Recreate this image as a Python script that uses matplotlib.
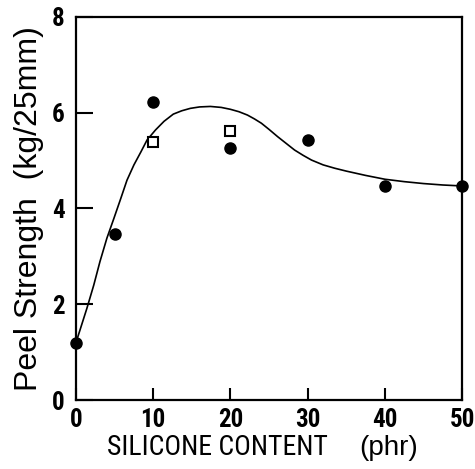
import matplotlib
matplotlib.use("Agg")
import matplotlib.pyplot as plt
from matplotlib import font_manager as fm

# filled circles
circle_x = [0, 5, 10, 20, 30, 40, 50]
circle_y = [1.2, 3.47, 6.22, 5.27, 5.43, 4.47, 4.47]
# open squares
square_x = [10, 20]
square_y = [5.39, 5.62]
# smooth curve
curve_x = [0, 1.4, 2.3, 3.1, 4.0, 4.9, 5.8, 6.6, 7.5, 8.4, 9.2, 10.3, 11.4, 12.6,
           13.7, 14.8, 16.0, 17.4, 18.8, 20.0, 21.1, 22.2, 23.1, 24.0, 25.0, 26.1,
           27.2, 28.3, 29.4, 30.5, 32.0, 33.5, 35.0, 37.5, 40, 42.5, 45, 47.5, 50]
curve_y = [1.2, 1.91, 2.40, 2.89, 3.38, 3.79, 4.21, 4.59, 4.91, 5.18, 5.43, 5.64,
           5.82, 5.97, 6.04, 6.09, 6.12, 6.13, 6.11, 6.07, 6.02, 5.95, 5.87, 5.78,
           5.65, 5.50, 5.36, 5.22, 5.11, 5.01, 4.91, 4.84, 4.78, 4.69, 4.61, 4.56,
           4.52, 4.49, 4.47]
x_ticks = [0, 10, 20, 30, 40, 50]
y_ticks = [0, 2, 4, 6, 8]

names = {f.name for f in fm.fontManager.ttflist}
cond = ['DejaVu Sans']
for cand in ['Liberation Sans Narrow', 'Roboto Condensed', 'Open Sans Condensed']:
    if cand in names:
        cond = [cand, 'DejaVu Sans']
        break
helv = ['Liberation Sans', 'DejaVu Sans']

fig = plt.figure(figsize=(4.75, 4.69), dpi=100)
ax = fig.add_axes([0.160, 0.147, 0.813, 0.817])

ax.plot(curve_x, curve_y, color='black', lw=1.2, zorder=2, clip_on=False)
ax.plot(circle_x, circle_y, 'o', color='black', ms=8, zorder=3, clip_on=False)
ax.plot(square_x, square_y, 's', mfc='white', mec='black', mew=1.5, ms=6.5,
        zorder=3, clip_on=False)

ax.set_xlim(0, 50)
ax.set_ylim(0, 8)
ax.set_xticks(x_ticks)
ax.set_yticks(y_ticks)
ax.set_xticklabels([str(v) for v in x_ticks], family=cond, weight='bold',
                   stretch='condensed', fontsize=18)
ax.set_yticklabels([str(v) for v in y_ticks], family=cond, weight='bold',
                   stretch='condensed', fontsize=18)
ax.tick_params(axis='x', direction='in', length=9, width=1.5, pad=6)
ax.tick_params(axis='y', direction='in', length=12, width=1.5, pad=8)
for s in ax.spines.values():
    s.set_linewidth(1.6)

ax.set_ylabel('Peel Strength  (kg/25mm)', fontsize=23, family=helv, labelpad=6)
fig.text(0.457, 0.030, 'SILICONE CONTENT', family=cond, stretch='condensed',
         fontsize=20, ha='center', va='baseline')
fig.text(0.819, 0.030, '(phr)', family=helv, fontsize=20,
         ha='center', va='baseline')

fig.savefig('out.png', dpi=100)
